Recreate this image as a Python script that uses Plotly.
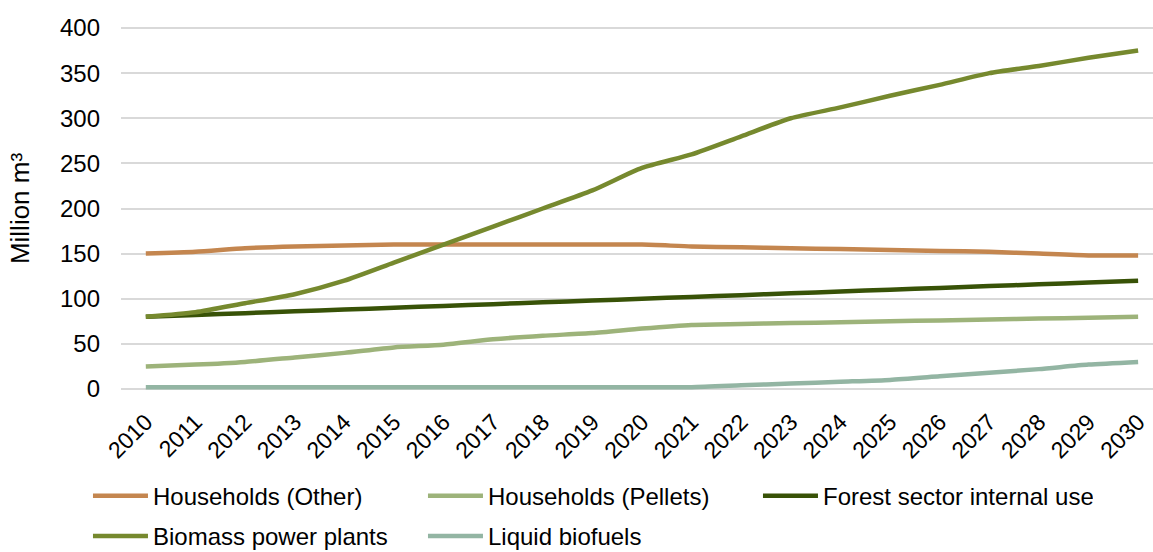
import plotly.graph_objects as go

# Years on the category axis
years = list(range(2010, 2031))

# Series values, million m³
households_other = [150, 152, 156, 158, 159, 160, 160, 160, 160, 160, 160,
                    158, 157, 156, 155, 154, 153, 152, 150, 148, 148]
households_pellets = [25, 27, 30, 35, 40, 46, 49, 55, 59, 62, 67,
                      71, 72, 73, 74, 75, 76, 77, 78, 79, 80]
forest_internal = [80, 82, 84, 86, 88, 90, 92, 94, 96, 98, 100,
                   102, 104, 106, 108, 110, 112, 114, 116, 118, 120]
biomass_power = [80, 85, 95, 105, 120, 140, 160, 180, 200, 220, 245,
                 260, 280, 300, 312, 325, 337, 350, 358, 367, 375]
liquid_biofuels = [2, 2, 2, 2, 2, 2, 2, 2, 2, 2, 2,
                   2, 4, 6, 8, 10, 14, 18, 22, 27, 30]

y_ticks = [0, 50, 100, 150, 200, 250, 300, 350, 400]

series = [
    ("Households (Other)", households_other, "#C4864F", "legend"),
    ("Households (Pellets)", households_pellets, "#9DB37A", "legend"),
    ("Forest sector internal use", forest_internal, "#385207", "legend"),
    ("Biomass power plants", biomass_power, "#76892E", "legend2"),
    ("Liquid biofuels", liquid_biofuels, "#93B5A3", "legend2"),
]

FONT = "Liberation Sans, Arial, sans-serif"

fig = go.Figure()
for name, values, color, leg in series:
    fig.add_trace(go.Scatter(
        x=years, y=values, name=name, mode="lines",
        line=dict(color=color, width=4.5, shape="spline", smoothing=0.6),
        legend=leg,
    ))

legend_common = dict(
    orientation="h",
    font=dict(family=FONT, size=24, color="#000000"),
    entrywidth=265, entrywidthmode="pixels",
    itemwidth=55,
    xanchor="left", yanchor="middle",
    bgcolor="rgba(0,0,0,0)",
    itemclick=False,
)

fig.update_layout(
    width=1153, height=552,
    margin=dict(l=121, r=0, t=19, b=154, autoexpand=False),
    plot_bgcolor="white", paper_bgcolor="white",
    font=dict(family=FONT, size=24, color="#000000"),
    showlegend=True,
    legend=dict(x=-0.032, y=-0.259, **legend_common),
    legend2=dict(x=-0.032, y=-0.365, **legend_common),
    xaxis=dict(
        range=[2009.5, 2030.3],
        tickmode="array", tickvals=years, ticktext=[str(y) for y in years],
        tickangle=-45, showgrid=False, zeroline=False, showline=False,
        ticks="", tickfont=dict(size=23), ticklabelstandoff=5,
    ),
    yaxis=dict(
        range=[-10, 410], tickmode="array", tickvals=y_ticks,
        showgrid=True, gridcolor="#D9D9D9", gridwidth=1.5,
        zeroline=False, showline=False, ticks="",
        tickfont=dict(size=24), ticklabelstandoff=20,
        title=dict(text="Million m³", font=dict(size=26), standoff=22),
    ),
)

fig.write_html("out.html")
